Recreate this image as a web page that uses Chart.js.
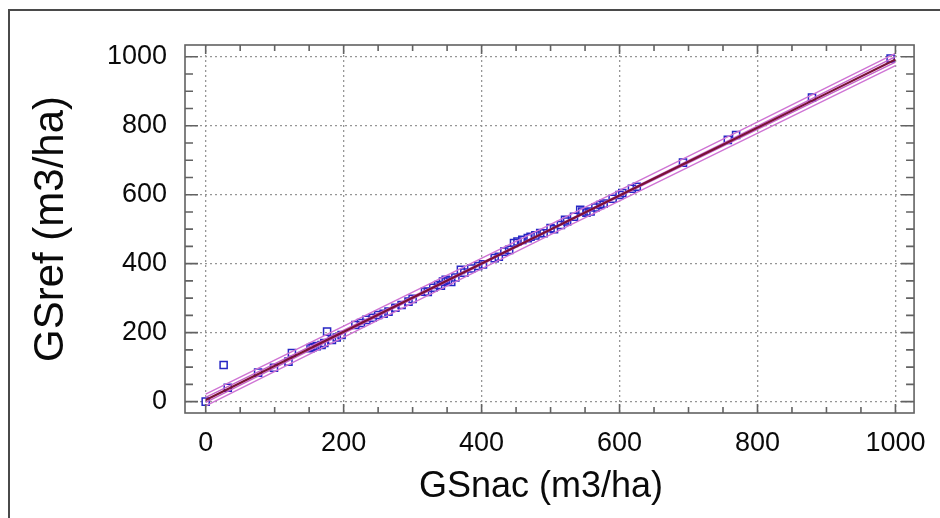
<!DOCTYPE html>
<html>
<head>
<meta charset="utf-8">
<script src="https://cdn.jsdelivr.net/npm/chart.js@4.4.1/dist/chart.umd.min.js"></script>
<style>
  html, body { margin: 0; padding: 0; background: #fff; overflow: hidden; }
  #wrap { position: relative; width: 940px; height: 518px; overflow: hidden; }
  #frame { position: absolute; left: 8px; top: 9px; width: 1000px; height: 600px; border: 2px solid #4a4a4a; box-sizing: border-box; }
  #chart { position: absolute; left: 0; top: 0; }
</style>
</head>
<body>
<div id="wrap">
  <div id="frame"></div>
  <canvas id="chart" width="940" height="518"></canvas>
</div>
<script>
// observed points
const gsNac = [0, 26, 32, 76, 99, 120, 125, 152, 155, 161, 168, 172, 176, 183, 190, 197,
  217, 225, 233, 242, 250, 258, 265, 275, 284, 294, 300, 318, 322, 330, 337, 341, 344,
  348, 351, 356, 362, 370, 375, 385, 395, 402, 419, 425, 433, 440, 447, 452, 459, 467,
  471, 478, 485, 490, 500, 505, 515, 521, 524, 534, 543, 546, 552, 558, 565, 572, 577,
  590, 600, 604, 618, 625, 692, 757, 769, 879, 993];
const gsRef = [0, 106, 40, 84, 98, 116, 141, 155, 158, 161, 164, 170, 203, 179, 186, 193,
  222, 228, 237, 243, 251, 255, 261, 272, 280, 290, 298, 319, 318, 330, 338, 336, 348,
  353, 351, 347, 360, 382, 374, 386, 393, 398, 416, 420, 435, 440, 460, 464, 469, 474,
  478, 482, 489, 488, 503, 500, 512, 527, 522, 536, 556, 551, 548, 551, 563, 570, 574,
  588, 599, 605, 617, 623, 693, 759, 773, 882, 995];

// fitted line and limits, read at a few x positions
const bandX      = [0, 250, 500, 750, 1000];
const fitLine    = [5, 252, 499, 745, 992];
const confUpper  = [12, 256, 501, 749, 1000];
const confLower  = [-2, 248, 497, 741, 984];
const predUpper  = [22, 268, 514, 761, 1010];
const predLower  = [-12, 236, 484, 729, 974];

// axes
const tickValues = [0, 200, 400, 600, 800, 1000];
const minorStep = 50;
const xTitle = 'GSnac (m3/ha)';
const yTitle = 'GSref (m3/ha)';

const FONT = '"Liberation Sans", Arial, Helvetica, sans-serif';

const toPts = (xs, ys) => xs.map((v, i) => ({ x: v, y: ys[i] }));

const lineSet = (ys, color, width) => ({
  data: toPts(bandX, ys),
  showLine: true,
  borderColor: color,
  borderWidth: width,
  pointRadius: 0,
  fill: false,
  cubicInterpolationMode: 'monotone'
});

// inward ticks, plot frame and x title
const axisDecor = {
  id: 'axisDecor',
  afterDraw(chart) {
    const { ctx, chartArea: a, scales: { x, y } } = chart;
    ctx.save();
    ctx.strokeStyle = '#626262';
    ctx.lineWidth = 1.6;
    ctx.strokeRect(a.left, a.top, a.right - a.left, a.bottom - a.top);
    for (let v = tickValues[0]; v <= tickValues[tickValues.length - 1]; v += minorStep) {
      const major = tickValues.includes(v);
      const px = x.getPixelForValue(v);
      const py = y.getPixelForValue(v);
      const lx = major ? 9 : 6;
      const ly = major ? 13 : 8;
      ctx.beginPath();
      ctx.moveTo(px, a.bottom); ctx.lineTo(px, a.bottom - lx);
      ctx.moveTo(px, a.top); ctx.lineTo(px, a.top + lx);
      ctx.moveTo(a.left, py); ctx.lineTo(a.left + ly, py);
      ctx.moveTo(a.right, py); ctx.lineTo(a.right - ly, py);
      ctx.stroke();
    }
    ctx.fillStyle = '#0a0a0a';
    ctx.font = '36px ' + FONT;
    ctx.textAlign = 'center';
    ctx.textBaseline = 'middle';
    ctx.fillText(xTitle, 541, 487);
    ctx.restore();
  }
};

const gridOpts = { color: '#969696', lineWidth: 1.3, drawTicks: false };
const borderOpts = { display: false, dash: [2, 3] };
const tickFont = { family: FONT, size: 27 };

new Chart(document.getElementById('chart'), {
  type: 'scatter',
  data: {
    datasets: [
      lineSet(fitLine, '#7a1236', 2.2),
      lineSet(confUpper, '#c462c8', 1.4),
      lineSet(confLower, '#c462c8', 1.4),
      lineSet(predUpper, '#cf74d4', 1.4),
      lineSet(predLower, '#cf74d4', 1.4),
      {
        data: toPts(gsNac, gsRef),
        pointStyle: 'rect',
        pointRadius: 5,
        pointBorderColor: '#2626c4',
        pointBackgroundColor: 'rgba(0,0,0,0)',
        pointBorderWidth: 1.5,
        showLine: false
      }
    ]
  },
  options: {
    responsive: false,
    animation: false,
    devicePixelRatio: 1,
    layout: { padding: { top: 45, right: 21, left: 0, bottom: 0 } },
    plugins: { legend: { display: false }, tooltip: { enabled: false } },
    scales: {
      x: {
        type: 'linear',
        min: -30,
        max: 1027,
        afterBuildTicks: s => { s.ticks = tickValues.map(v => ({ value: v })); },
        afterFit: s => { s.height = 105; },
        ticks: { font: tickFont, color: '#0a0a0a', padding: 14, maxRotation: 0, callback: v => String(v) },
        grid: gridOpts,
        border: borderOpts
      },
      y: {
        type: 'linear',
        min: -33,
        max: 1034,
        afterBuildTicks: s => { s.ticks = tickValues.map(v => ({ value: v })); },
        afterFit: s => { s.width = 185; },
        ticks: { font: tickFont, color: '#0a0a0a', padding: 18, callback: v => String(v) },
        grid: gridOpts,
        border: borderOpts,
        title: {
          display: true,
          text: yTitle,
          color: '#0a0a0a',
          font: { family: FONT, size: 42 },
          padding: { top: 26, bottom: 0 }
        }
      }
    }
  },
  plugins: [axisDecor]
});
</script>
</body>
</html>
